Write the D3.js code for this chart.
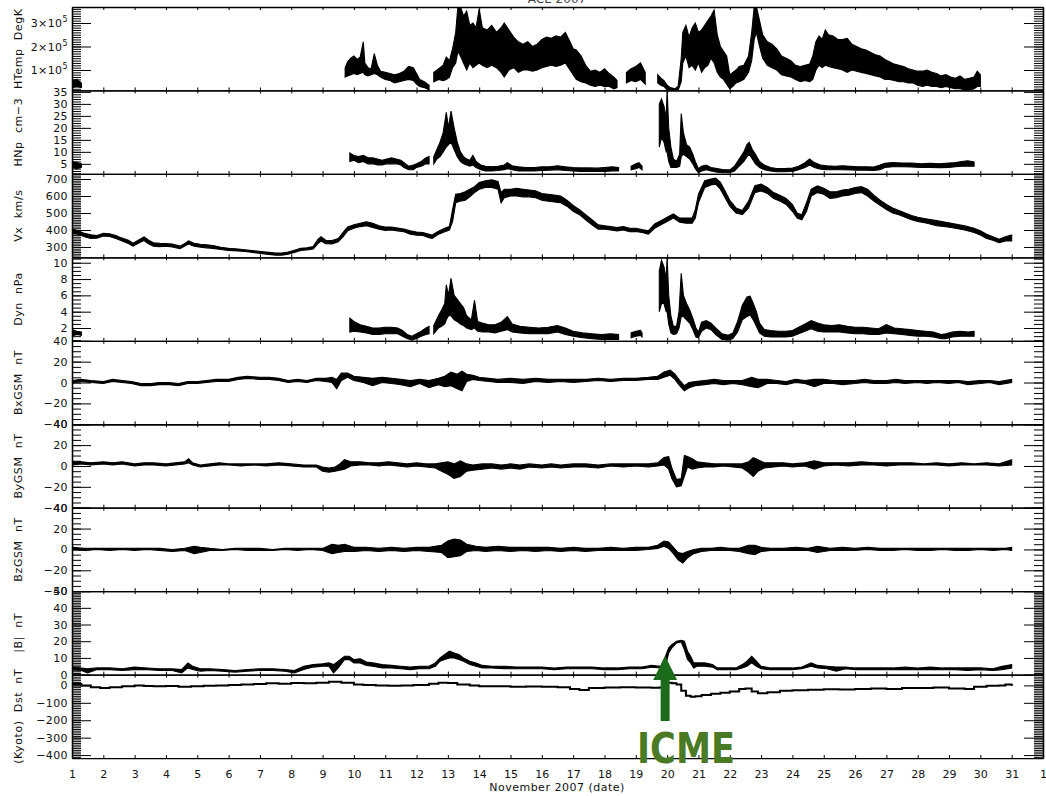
<!DOCTYPE html>
<html><head><meta charset="utf-8">
<script src="https://cdn.jsdelivr.net/npm/d3@7"></script>
<style>
body{margin:0;background:#fff}
svg{display:block}
text{font-family:"DejaVu Sans",sans-serif}
</style>
</head><body>
<svg id="c" width="1046" height="796"></svg>
<script>
// ---------------- DATA ----------------
// each entry: [day of Nov 2007, low envelope, high envelope]; null = data gap
const dayTicks = d3.range(1, 33);
const dayLabels = ["1","2","3","4","5","6","7","8","9","10","11","12","13","14","15","16","17","18","19","20","21","22","23","24","25","26","27","28","29","30","31","1"];

// proton temperature, units of 1e5 K
const tempE5 = [
[1.0,0.25,0.55],[1.15,0.3,0.6],[1.3,0.25,0.45],null,
[9.72,0.7,1.1],[9.8,0.75,1.35],[9.9,0.8,1.5],[10.0,0.85,1.6],[10.1,0.8,1.45],[10.2,0.85,1.55],[10.3,0.9,2.2],[10.35,0.8,1.3],[10.45,0.75,1.1],[10.55,0.8,1.05],[10.65,0.85,1.7],[10.75,0.8,1.2],[10.85,0.7,0.95],[11.0,0.6,0.9],[11.15,0.55,0.85],[11.3,0.45,0.8],[11.45,0.5,0.85],[11.6,0.55,0.95],[11.75,0.6,1.15],[11.9,0.55,1.1],[12.0,0.4,0.85],[12.1,0.3,0.6],[12.25,0.25,0.5],[12.4,0.15,0.35],null,
[12.55,0.5,0.9],[12.7,0.6,1.05],[12.85,0.55,1.2],[12.95,0.6,1.55],[13.05,0.7,1.4],[13.15,1.1,1.9],[13.25,1.3,2.6],[13.32,1.8,3.7],[13.4,1.6,3.7],[13.5,1.3,3.3],[13.6,1.0,3.5],[13.7,1.3,2.9],[13.8,1.1,3.0],[13.9,1.2,2.8],[14.0,1.3,3.6],[14.1,1.2,2.8],[14.25,1.1,2.7],[14.4,1.2,2.9],[14.55,1.1,2.6],[14.7,0.9,2.8],[14.8,0.7,3.0],[14.95,1.0,2.7],[15.1,1.1,2.4],[15.25,0.9,2.2],[15.4,1.0,2.1],[15.55,1.0,2.2],[15.7,0.95,2.0],[15.85,1.0,2.1],[16.0,1.1,2.3],[16.15,1.15,2.4],[16.3,1.2,2.35],[16.45,1.15,2.45],[16.6,1.2,2.4],[16.75,1.3,2.6],[16.9,1.0,2.2],[17.0,0.8,1.9],[17.1,0.6,1.85],[17.25,0.5,1.6],[17.4,0.45,1.2],[17.55,0.35,0.95],[17.7,0.3,1.0],[17.85,0.35,0.9],[18.0,0.3,1.05],[18.15,0.3,0.85],[18.3,0.2,0.7],[18.4,0.25,0.55],null,
[18.7,0.45,0.9],[18.85,0.55,1.05],[19.0,0.5,1.15],[19.15,0.6,1.3],[19.3,0.4,0.9],null,
[19.7,0.45,0.8],[19.8,0.35,0.65],[19.9,0.3,0.55],[20.0,0.15,0.35],[20.1,0.13,0.25],[20.25,0.13,0.2],[20.35,0.13,0.3],[20.45,0.5,1.5],[20.5,1.3,2.6],[20.6,1.6,2.9],[20.7,1.1,2.4],[20.8,1.2,2.8],[20.9,1.0,3.0],[21.0,1.3,2.6],[21.1,0.9,2.7],[21.2,1.1,2.9],[21.3,1.2,3.1],[21.4,1.5,3.3],[21.5,1.3,3.55],[21.6,0.9,2.5],[21.7,0.7,2.0],[21.8,0.6,1.8],[21.9,0.4,1.6],[22.0,0.2,0.8],[22.1,0.3,0.9],[22.2,0.45,1.0],[22.3,0.5,1.15],[22.45,0.6,1.2],[22.6,0.9,1.6],[22.7,1.4,2.6],[22.78,2.3,3.7],[22.85,2.6,3.7],[22.95,2.0,3.1],[23.05,1.5,2.5],[23.2,1.2,2.2],[23.35,1.1,2.1],[23.5,1.0,1.9],[23.65,0.8,1.6],[23.8,0.75,1.5],[23.95,0.7,1.4],[24.1,0.6,1.2],[24.25,0.5,1.15],[24.4,0.55,1.2],[24.55,0.5,1.25],[24.65,0.6,1.6],[24.75,1.0,2.2],[24.85,1.2,2.45],[24.95,1.1,2.3],[25.05,1.2,2.7],[25.15,1.15,2.5],[25.3,1.1,2.45],[25.45,1.05,2.3],[25.6,1.0,2.3],[25.75,0.9,2.35],[25.9,1.0,2.1],[26.05,0.95,2.0],[26.2,0.9,1.9],[26.35,0.85,1.85],[26.5,0.8,1.75],[26.65,0.75,1.65],[26.8,0.7,1.6],[26.95,0.6,1.45],[27.1,0.6,1.35],[27.25,0.55,1.25],[27.4,0.5,1.2],[27.55,0.5,1.15],[27.7,0.45,1.05],[27.85,0.45,1.0],[28.0,0.35,0.95],[28.15,0.3,0.95],[28.3,0.35,1.0],[28.45,0.3,0.9],[28.6,0.3,0.85],[28.75,0.25,0.75],[28.9,0.3,0.8],[29.05,0.25,0.7],[29.2,0.2,0.65],[29.35,0.2,0.75],[29.5,0.15,0.6],[29.65,0.15,0.65],[29.8,0.2,0.7],[29.9,0.3,0.95],[30.0,0.3,0.8]
];

// proton density, cm^-3
const densityNp = [
[1.0,3.5,6],[1.15,3,5.5],[1.3,3.5,5],null,
[9.87,6,9.5],[10.0,6.5,8.5],[10.15,5.5,8],[10.3,6,8.5],[10.45,5,7.5],[10.6,5,7.5],[10.75,4.5,7],[10.9,4.5,6.5],[11.05,5,7],[11.2,5,7.5],[11.35,5,7],[11.5,4.5,6.5],[11.6,3.5,5.5],[11.75,2.5,4],[11.9,2.5,4.5],[12.0,3.5,5],[12.15,4,6],[12.3,5,7.5],[12.4,5,8],null,
[12.55,5,8],[12.65,7,11],[12.75,8,14],[12.85,10,18],[12.95,12,26.5],[13.02,13,20],[13.1,14,27],[13.2,11,20],[13.3,8,14],[13.4,6,10],[13.5,5,8],[13.6,4.5,7],[13.7,4,6.5],[13.8,4.5,8.5],[13.9,3.5,6],[14.05,2.5,4.5],[14.2,2,4],[14.4,2,3.8],[14.6,2.2,4],[14.8,2.5,4.5],[14.9,3,5.5],[15.05,2.5,4.2],[15.25,2,3.8],[15.5,2,3.5],[15.75,2,3.5],[16.0,2.2,3.8],[16.25,2.3,3.8],[16.5,2.5,4.2],[16.75,2.2,3.8],[17.0,2,3.5],[17.25,1.8,3.3],[17.5,1.8,3.3],[17.75,1.8,3.2],[18.0,1.8,3.5],[18.25,2,3.8],[18.45,2,3.5],null,
[18.85,2.5,4],[19.0,3,5],[19.1,3.5,5.5],[19.2,2.5,4],null,
[19.75,12,30],[19.82,16,32],[19.9,14,29],[19.97,10,24],[20.0,10,36],[20.05,6,20],[20.12,3.5,12],[20.2,3.5,7],[20.3,3.5,6],[20.4,4,9],[20.45,8,26],[20.52,9,18],[20.62,8,13],[20.72,7,12],[20.82,5,9],[20.9,3,6],[21.0,1.3,3],[21.1,2,4],[21.25,2.5,4.5],[21.4,2,3.5],[21.6,1.5,3],[21.8,1.3,2.5],[22.0,1.3,2.5],[22.15,2,4],[22.3,4,7],[22.45,6,10],[22.55,8,13],[22.62,9,14],[22.72,7,11],[22.82,5,9],[22.95,3.5,6],[23.1,2.5,4.5],[23.3,2,3.5],[23.5,1.7,3],[23.75,1.7,3],[24.0,1.8,3.2],[24.2,2.5,4],[24.4,3.5,5.5],[24.55,4.5,7],[24.7,3.5,5.5],[24.9,2.8,4.5],[25.1,2.5,4.2],[25.35,2.5,4],[25.6,2.5,4.2],[25.85,2.4,4],[26.1,2.3,3.8],[26.35,2.3,3.8],[26.6,2.2,3.7],[26.8,2.5,4.5],[26.95,3.5,5.2],[27.2,3.8,5.5],[27.5,3.8,5.3],[27.8,3.7,5.3],[28.1,3.5,5],[28.4,3.5,5.2],[28.7,3.4,5],[29.0,3.5,5.3],[29.2,3.8,5.5],[29.4,4,6],[29.6,4,6.3],[29.8,4,5.8]
];

// solar wind speed Vx, km/s
const speedVx = [
[1.0,380,405],[1.2,375,395],[1.4,360,380],[1.6,350,372],[1.8,352,368],[2.0,365,380],[2.2,362,378],[2.4,350,368],[2.6,335,352],[2.8,320,340],[2.95,305,322],[3.1,320,338],[3.3,338,360],[3.45,318,340],[3.6,305,325],[3.8,302,322],[4.0,305,320],[4.2,300,318],[4.45,290,305],[4.6,305,320],[4.72,318,336],[4.9,305,322],[5.1,298,316],[5.3,295,313],[5.5,292,308],[5.75,285,298],[6.0,280,292],[6.3,276,288],[6.6,272,282],[6.9,265,276],[7.2,258,270],[7.5,252,264],[7.7,252,264],[7.9,258,270],[8.1,268,280],[8.3,280,292],[8.5,283,295],[8.7,288,302],[8.85,320,345],[8.95,335,360],[9.1,320,340],[9.3,318,338],[9.5,330,350],[9.65,360,385],[9.8,395,418],[10.0,410,430],[10.2,420,440],[10.4,425,448],[10.6,415,440],[10.8,405,425],[11.0,398,418],[11.2,400,418],[11.4,395,412],[11.6,390,405],[11.8,375,395],[12.0,370,388],[12.2,368,385],[12.4,355,375],[12.5,350,370],[12.7,375,392],[12.9,390,410],[13.05,400,420],[13.15,450,520],[13.25,560,610],[13.4,570,615],[13.55,575,625],[13.7,595,640],[13.85,620,655],[14.0,640,680],[14.2,650,690],[14.4,650,695],[14.6,640,685],[14.7,560,620],[14.8,590,640],[15.0,600,640],[15.2,600,645],[15.4,595,640],[15.6,595,635],[15.8,590,630],[16.0,575,615],[16.2,570,610],[16.4,565,605],[16.6,560,600],[16.8,540,575],[17.0,510,545],[17.2,490,520],[17.4,460,490],[17.6,430,460],[17.8,405,430],[18.0,405,425],[18.2,400,420],[18.4,395,415],[18.6,400,420],[18.8,390,410],[19.0,392,410],[19.2,385,402],[19.4,375,395],[19.6,410,435],[19.8,430,455],[20.0,450,475],[20.2,470,495],[20.4,445,470],[20.6,440,470],[20.8,440,470],[20.9,470,520],[21.0,560,610],[21.2,650,690],[21.4,665,700],[21.55,670,705],[21.7,640,680],[21.85,590,630],[22.0,540,575],[22.2,500,530],[22.4,490,515],[22.6,530,570],[22.8,620,660],[23.0,630,670],[23.2,615,650],[23.4,585,620],[23.6,570,605],[23.8,550,585],[24.0,510,550],[24.15,470,500],[24.3,460,490],[24.45,510,560],[24.6,600,640],[24.8,620,660],[25.0,610,645],[25.2,585,625],[25.4,590,625],[25.6,600,635],[25.8,605,640],[26.0,615,650],[26.2,620,655],[26.4,600,640],[26.6,570,605],[26.8,545,575],[27.0,520,550],[27.2,500,530],[27.4,490,515],[27.6,475,500],[27.8,460,485],[28.0,450,475],[28.3,440,465],[28.6,425,455],[28.9,420,445],[29.2,410,435],[29.5,400,425],[29.8,385,410],[30.0,370,395],[30.2,350,375],[30.4,340,360],[30.6,325,345],[30.8,335,360],[31.0,335,370]
];

// dynamic pressure, nPa
const pressureDyn = [
[1.0,1.0,1.8],[1.15,1.2,1.6],[1.3,1.1,1.5],null,
[9.87,1.5,3.2],[10.0,1.6,2.8],[10.2,1.5,2.4],[10.4,1.4,2.2],[10.6,1.2,2.0],[10.8,1.2,2.0],[11.0,1.3,2.1],[11.2,1.3,2.1],[11.4,1.3,2.0],[11.55,1.0,1.7],[11.7,0.7,1.2],[11.85,0.5,1.0],[12.0,0.7,1.3],[12.15,1.0,1.6],[12.3,1.2,2.0],[12.4,1.3,2.2],null,
[12.55,1.3,2.3],[12.7,2.0,3.5],[12.8,2.2,4.2],[12.9,2.5,5.0],[12.95,3.0,7.3],[13.02,3.5,6.0],[13.1,3.5,8.1],[13.2,3.0,6.0],[13.3,2.8,5.5],[13.4,2.5,5.0],[13.5,2.3,4.5],[13.6,2.0,3.5],[13.75,1.8,3.0],[13.85,2.0,5.4],[13.95,1.6,2.8],[14.1,1.5,2.6],[14.3,1.5,2.4],[14.5,1.4,2.4],[14.7,1.6,2.7],[14.9,1.8,3.4],[15.05,1.5,2.5],[15.3,1.4,2.2],[15.6,1.3,2.1],[15.9,1.3,2.0],[16.2,1.3,2.1],[16.5,1.5,2.3],[16.75,1.2,2.0],[17.0,1.0,1.6],[17.3,0.8,1.4],[17.6,0.7,1.3],[17.9,0.6,1.2],[18.2,0.6,1.3],[18.45,0.6,1.2],null,
[18.85,0.8,1.4],[19.0,1.0,1.6],[19.15,1.1,1.7],[19.2,0.9,1.4],null,
[19.75,4,9],[19.82,5,10.3],[19.9,5,9.5],[19.97,4,8],[20.0,4,10.7],[20.05,2.5,6],[20.12,1.4,3.5],[20.2,1.2,2.2],[20.3,1.3,2.2],[20.38,2,4],[20.45,3.4,8.7],[20.52,3.4,6],[20.62,3,5],[20.72,2.6,4.2],[20.82,1.8,3.2],[20.92,0.9,2],[21.0,0.8,1.5],[21.1,1.6,2.7],[21.25,2.0,2.9],[21.4,1.8,2.6],[21.55,1.2,2.0],[21.75,0.6,1.3],[21.95,0.5,1.1],[22.1,0.7,1.4],[22.25,1.5,2.8],[22.4,3.0,4.8],[22.55,3.4,5.8],[22.65,3.6,5.9],[22.75,3.0,5.0],[22.85,2.2,4.0],[22.95,1.4,2.6],[23.1,1.0,1.8],[23.3,0.9,1.7],[23.55,0.9,1.6],[23.8,0.9,1.6],[24.0,1.0,1.7],[24.2,1.3,2.1],[24.4,1.6,2.5],[24.6,1.9,2.9],[24.8,1.6,2.6],[25.0,1.5,2.4],[25.25,1.5,2.3],[25.5,1.5,2.4],[25.75,1.4,2.2],[26.0,1.3,2.1],[26.25,1.3,2.1],[26.5,1.2,2.0],[26.75,1.2,1.9],[27.0,1.4,2.4],[27.25,1.3,2.0],[27.5,1.2,1.9],[27.75,1.1,1.8],[28.0,1.0,1.7],[28.25,1.0,1.6],[28.5,0.9,1.5],[28.75,0.7,1.2],[28.9,0.7,1.3],[29.1,0.9,1.5],[29.35,1.0,1.6],[29.6,1.0,1.5],[29.8,1.0,1.6]
];

// magnetic field GSM components, nT
const fieldBx = [
[1.0,0,2],[1.3,1,3],[1.6,0,2],[2.0,-1,1],[2.3,1,3],[2.6,0,2],[2.9,-1,1],[3.2,-3,-1],[3.5,-3,-1],[3.8,-2,0],[4.1,-2,0],[4.4,-3,-1],[4.7,-1,1],[5.0,-1,1],[5.3,0,2],[5.6,1,3],[6.0,1,3],[6.3,3,5],[6.6,4,6],[7.0,3,5],[7.3,3,5],[7.6,2,4],[7.9,0,2],[8.2,1,3],[8.5,0,2],[8.8,2,4],[9.1,1,4],[9.3,0,5],[9.45,-6,3],[9.6,2,9],[9.8,5,9],[10.0,2,6],[10.3,0,5],[10.6,-3,4],[10.9,0,5],[11.2,-1,4],[11.5,-2,3],[11.8,-4,2],[12.1,-1,3],[12.4,-5,2],[12.7,-2,4],[12.9,-4,6],[13.1,-3,10],[13.3,-6,8],[13.45,-8,11],[13.6,1,8],[13.8,3,7],[14.0,2,5],[14.3,1,4],[14.6,0,3],[15.0,0,4],[15.4,-1,3],[15.8,1,4],[16.2,0,3],[16.6,1,3],[17.0,0,3],[17.4,1,3],[17.8,2,4],[18.2,1,3],[18.6,2,4],[19.0,2,4],[19.4,3,5],[19.7,3,6],[19.9,5,10],[20.1,7,12],[20.25,3,8],[20.4,-3,2],[20.55,-8,-3],[20.7,-5,0],[20.9,-3,1],[21.2,-2,2],[21.5,-1,3],[21.8,-2,2],[22.1,-1,2],[22.4,-2,2],[22.7,-4,5],[22.9,-5,3],[23.2,-1,3],[23.5,-1,2],[23.8,-2,1],[24.1,0,3],[24.4,-1,2],[24.7,-4,3],[25.0,-1,3],[25.3,-1,2],[25.6,-2,2],[26.0,-1,2],[26.3,0,3],[26.6,-1,2],[27.0,-1,2],[27.3,0,3],[27.6,-1,2],[28.0,0,2],[28.3,-1,2],[28.6,0,2],[29.0,-1,2],[29.3,0,2],[29.6,-2,1],[30.0,-1,2],[30.3,0,2],[30.6,-2,1],[31.0,0,3]
];
const fieldBy = [
[1.0,1,4],[1.3,2,4],[1.6,1,3],[2.0,2,4],[2.3,1,3],[2.6,2,4],[3.0,0,2],[3.3,1,3],[3.6,1,3],[4.0,0,2],[4.3,1,3],[4.6,2,4],[4.72,3,7],[4.85,1,3],[5.1,-1,1],[5.4,0,2],[5.7,1,3],[6.0,1,2],[6.4,0,2],[6.8,1,2],[7.2,0,2],[7.6,1,3],[8.0,0,2],[8.4,-1,1],[8.8,-1,1],[9.0,-5,-1],[9.2,-6,-2],[9.4,-5,-1],[9.55,-4,2],[9.7,-3,6],[9.9,0,4],[10.2,1,4],[10.5,1,3],[10.8,0,3],[11.1,1,4],[11.4,0,3],[11.7,-1,2],[12.0,0,3],[12.3,-1,2],[12.6,-2,2],[12.8,-5,3],[13.0,-8,4],[13.2,-12,2],[13.4,-10,5],[13.6,-5,2],[13.8,-4,1],[14.1,-3,2],[14.4,-2,2],[14.7,-3,1],[15.0,-2,2],[15.3,-3,1],[15.6,-1,2],[16.0,-2,1],[16.3,-1,2],[16.6,-2,1],[17.0,-1,2],[17.4,-1,2],[17.8,-2,1],[18.2,0,2],[18.6,-1,2],[19.0,0,2],[19.4,-1,2],[19.7,0,3],[19.9,1,8],[20.05,-3,9],[20.15,-12,-2],[20.3,-20,-13],[20.45,-19,-12],[20.55,-10,10],[20.65,-1,9],[20.8,-3,7],[20.95,-2,4],[21.2,-1,3],[21.5,-1,2],[21.8,0,2],[22.1,-1,2],[22.4,-2,2],[22.6,-6,4],[22.75,-10,8],[22.9,-5,6],[23.1,-2,3],[23.4,-1,3],[23.7,0,3],[24.0,-1,2],[24.4,0,3],[24.7,-3,5],[25.0,0,3],[25.4,1,3],[25.8,0,3],[26.2,1,4],[26.6,1,3],[27.0,0,3],[27.4,1,3],[27.8,1,3],[28.2,1,2],[28.6,1,3],[29.0,0,2],[29.4,1,3],[29.8,1,2],[30.2,1,3],[30.6,0,2],[31.0,1,6]
];
const fieldBz = [
[1.0,0,2],[1.4,-1,1],[1.8,0,1],[2.2,-1,1],[2.6,0,1],[3.0,-1,1],[3.4,0,1],[3.8,-1,1],[4.2,-2,0],[4.6,-1,1],[4.9,-4,3],[5.1,-3,2],[5.4,-1,1],[5.8,-1,0],[6.2,0,1],[6.6,-1,1],[7.0,-1,1],[7.4,-1,0],[7.8,0,1],[8.2,-1,1],[8.6,0,1],[9.0,-1,1],[9.3,-4,5],[9.5,-3,4],[9.7,-2,5],[10.0,-2,2],[10.4,-1,2],[10.8,-2,1],[11.2,-1,2],[11.6,-2,1],[12.0,-1,2],[12.4,-2,2],[12.8,-3,4],[13.0,-8,8],[13.2,-7,10],[13.4,-6,9],[13.6,-2,5],[13.9,-1,3],[14.2,-2,2],[14.6,-1,3],[15.0,-2,2],[15.4,-1,2],[15.8,-2,2],[16.2,-1,2],[16.6,-2,1],[17.0,-1,2],[17.4,-2,1],[17.8,-1,1],[18.2,-1,2],[18.6,-1,1],[19.0,-1,2],[19.4,0,2],[19.7,1,4],[19.9,3,8],[20.05,1,7],[20.2,-4,2],[20.35,-10,-3],[20.5,-13,-4],[20.65,-8,-2],[20.85,-4,0],[21.1,-2,1],[21.4,-1,1],[21.7,-1,2],[22.0,-1,1],[22.3,-2,1],[22.6,-4,4],[22.8,-5,4],[23.0,-2,2],[23.3,-1,1],[23.7,-1,1],[24.1,-1,2],[24.5,-1,1],[24.8,-3,3],[25.2,-1,1],[25.6,-1,2],[26.0,-1,1],[26.4,0,2],[26.8,-1,1],[27.2,-1,1],[27.6,0,1],[28.0,-1,1],[28.4,-1,1],[28.8,0,1],[29.2,-1,1],[29.6,-1,1],[30.0,0,1],[30.4,-1,1],[30.8,0,1],[31.0,-1,2]
];
// total field |B|, nT
const fieldBt = [
[1.0,3,4.5],[1.3,2.5,4],[1.5,1,3.5],[1.8,3,4],[2.2,3,4],[2.6,2.5,3.5],[3.0,3,4.5],[3.4,3,4],[3.8,2.5,3.5],[4.2,2.5,3.5],[4.5,1,3],[4.7,4,7],[4.85,3,5],[5.1,2,3.5],[5.4,2.5,3.5],[5.8,2,3],[6.2,1.5,2.5],[6.6,2,3],[7.0,2.5,3.5],[7.4,2.5,3.5],[7.8,2,3],[8.1,1,2.5],[8.4,3,5],[8.7,4.5,6],[9.0,5,6.5],[9.2,5,7],[9.35,1,6],[9.5,4,8],[9.7,9,11],[9.85,9,11],[10.0,7,9],[10.2,7,9.5],[10.4,5.5,7.5],[10.6,5,7],[10.9,4,6],[11.2,4,5.5],[11.5,3.5,5],[11.8,3,4.5],[12.1,3.5,5],[12.4,3.5,5],[12.6,5,7],[12.75,8,10],[12.9,9,12],[13.05,10,14],[13.2,10,13],[13.35,9,12],[13.5,8,10],[13.7,6,8],[13.9,5,7],[14.1,4,5.5],[14.4,4,5],[14.8,3.5,5],[15.2,3.5,4.5],[15.6,3.5,4.5],[16.0,3.5,4.5],[16.4,3,4],[16.8,3.5,4.5],[17.2,3.5,4.5],[17.6,3.5,4.5],[18.0,3,4],[18.4,3,4],[18.8,3.5,4.5],[19.2,3.5,4.5],[19.5,4.5,5.5],[19.8,4,5],[19.95,5,11],[20.05,13,16],[20.15,16,18],[20.3,19,20],[20.45,19.5,20.5],[20.55,15,20],[20.65,9,14],[20.75,7,11],[20.85,4,7],[20.95,5,7],[21.2,5,7],[21.45,4.5,6],[21.6,3,4],[21.9,3,4],[22.2,3,4],[22.4,4,6],[22.55,5,8],[22.7,7,11],[22.85,5,8],[23.0,3.5,5],[23.3,3,4],[23.6,3,4],[24.0,3,4],[24.3,3.5,4.5],[24.6,5,7],[24.8,4,5.5],[25.1,3.5,5],[25.4,2,4.5],[25.7,3.5,4.5],[26.0,3,4],[26.4,3,4],[26.8,3,4],[27.2,3,4],[27.6,3,4.5],[28.0,3,4],[28.4,3,4.5],[28.8,3,4],[29.2,3,4],[29.6,2.5,4],[30.0,3,4],[30.4,2.5,3.5],[30.7,3,5],[31.0,4,6]
];
// Kyoto Dst index, nT  [day, value]
const dstKyoto = [
[1.0,8],[1.3,0],[1.6,-10],[1.9,-15],[2.2,-10],[2.6,-5],[3.0,0],[3.3,-3],[3.6,-5],[4.0,-3],[4.4,-8],[4.8,-5],[5.2,-2],[5.6,0],[6.0,3],[6.4,5],[6.8,8],[7.2,12],[7.6,10],[8.0,14],[8.4,12],[8.8,15],[9.2,21],[9.6,15],[10.0,5],[10.3,2],[10.7,0],[11.1,-2],[11.5,0],[11.9,2],[12.4,10],[12.7,15],[13.0,14],[13.3,5],[13.7,0],[14.0,-5],[14.5,-5],[15.0,-8],[15.5,-6],[16.0,-8],[16.5,-10],[16.9,-20],[17.2,-27],[17.5,-15],[18.0,-12],[18.5,-10],[19.0,-12],[19.5,-14],[19.75,-12],[19.85,12],[20.0,15],[20.15,12],[20.3,5],[20.45,-30],[20.6,-60],[20.75,-65],[20.9,-62],[21.1,-55],[21.4,-48],[21.7,-42],[22.0,-35],[22.3,-20],[22.5,-18],[22.7,-35],[22.9,-45],[23.2,-40],[23.6,-30],[24.0,-28],[24.5,-25],[25.0,-22],[25.5,-24],[26.0,-20],[26.5,-18],[27.0,-20],[27.5,-15],[28.0,-15],[28.5,-12],[29.0,-18],[29.5,-20],[29.8,-8],[30.2,-2],[30.6,0],[30.8,5],[31.0,-3]
];

// y-axis labelled tick values
const tempTicks = [1, 2, 3];
const npTicks = [5, 10, 15, 20, 25, 30, 35];
const vxTicks = [300, 400, 500, 600, 700];
const dynTicks = [2, 4, 6, 8, 10];
const bTicks = [-40, -20, 0, 20, 40];
const btTicks = [0, 10, 20, 30, 40, 50];
const dstTicks = [-400, -300, -200, -100, 0];

// ---------------- LAYOUT ----------------
const X0 = 72, X1 = 1043, TOP = 7, PH = 83.45;
const svg = d3.select("#c");
const x = d3.scaleLinear().domain([1, 32]).range([X0, X1]);

const panels = [
  {title: "HTemp  DegK", domain: [0.13, 3.68], major: tempTicks, minor: 0.1, data: tempE5, kind: "band", sci: true},
  {title: "HNp  cm\u22123", domain: [0.8, 35.6], major: npTicks, minor: 1, data: densityNp, kind: "band"},
  {title: "Vx  km/s", domain: [239, 730], major: vxTicks, minor: 10, data: speedVx, kind: "band"},
  {title: "Dyn  nPa", domain: [0.43, 10.66], major: dynTicks, minor: 0.5, data: pressureDyn, kind: "band"},
  {title: "BxGSM  nT", domain: [-40, 40], major: bTicks, minor: 5, data: fieldBx, kind: "band"},
  {title: "ByGSM  nT", domain: [-40, 40], major: bTicks, minor: 5, data: fieldBy, kind: "band"},
  {title: "BzGSM  nT", domain: [-40, 40], major: bTicks, minor: 5, data: fieldBz, kind: "band"},
  {title: "|B|  nT", domain: [0, 50], major: btTicks, minor: 1, data: fieldBt, kind: "band"},
  {title: "(Kyoto)  Dst  nT", domain: [-417, 62], major: dstTicks, minor: 10, data: dstKyoto, kind: "line"}
];

const fmtNum = d => (d < 0 ? "\u2212" + Math.abs(d) : "" + d);

panels.forEach((p, i) => {
  const y0 = TOP + i * PH, y1 = y0 + PH;
  const y = d3.scaleLinear().domain(p.domain).range([y1, y0]);
  const g = svg.append("g");
  const cid = "clip" + i;
  svg.append("clipPath").attr("id", cid).append("rect")
    .attr("x", X0).attr("y", y0).attr("width", X1 - X0).attr("height", PH);
  const dg = g.append("g").attr("clip-path", `url(#${cid})`);
  if (p.kind === "band") {
    const area = d3.area().defined(d => d !== null)
      .x(d => x(d[0])).y0(d => y(d[1])).y1(d => y(d[2]));
    dg.append("path").datum(p.data).attr("d", area)
      .attr("fill", "#000").attr("stroke", "#000").attr("stroke-width", 1.1)
      .attr("stroke-linejoin", "miter");
  } else {
    const line = d3.line().x(d => x(d[0])).y(d => y(d[1])).curve(d3.curveStepAfter);
    dg.append("path").datum(p.data).attr("d", line)
      .attr("fill", "none").attr("stroke", "#000").attr("stroke-width", 2);
  }

  const lo = Math.ceil(Math.min(...p.domain) / p.minor - 1e-9);
  const hi = Math.floor(Math.max(...p.domain) / p.minor + 1e-9);
  const minorVals = d3.range(lo, hi + 1).map(k => +(k * p.minor).toFixed(4));

  // left axis minor + major
  g.append("g").attr("transform", `translate(${X0},0)`)
    .call(d3.axisLeft(y).tickValues(minorVals).tickSizeInner(-9).tickSizeOuter(0).tickFormat(""));
  const la = g.append("g").attr("transform", `translate(${X0},0)`)
    .call(d3.axisLeft(y).tickValues(p.major).tickSizeInner(-19).tickSizeOuter(0).tickPadding(4).tickFormat(fmtNum));
  la.selectAll(".tick text").attr("font-size", 11).attr("font-family", "DejaVu Sans")
    .attr("letter-spacing", 0.4).attr("fill", "#111");
  if (p.sci) {
    la.selectAll(".tick text").each(function (d) {
      const t = d3.select(this);
      t.text("");
      t.append("tspan").text(d + "\u00d710");
      t.append("tspan").attr("dy", -5).attr("font-size", 8).text("5");
    });
  }
  // right axis minor + major
  g.append("g").attr("transform", `translate(${X1},0)`)
    .call(d3.axisRight(y).tickValues(minorVals).tickSizeInner(-9).tickSizeOuter(0).tickFormat(""));
  g.append("g").attr("transform", `translate(${X1},0)`)
    .call(d3.axisRight(y).tickValues(p.major).tickSizeInner(-19).tickSizeOuter(0).tickFormat(""));
  // top & bottom day ticks (inward)
  g.append("g").attr("transform", `translate(0,${y0})`)
    .call(d3.axisTop(x).tickValues(dayTicks).tickSizeInner(-3).tickSizeOuter(0).tickFormat(""));
  const ba = g.append("g").attr("transform", `translate(0,${y1})`)
    .call(d3.axisBottom(x).tickValues(dayTicks).tickSizeInner(-3).tickSizeOuter(0).tickPadding(12)
      .tickFormat(i === panels.length - 1 ? (d => dayLabels[d - 1]) : ""));
  ba.selectAll(".tick text").attr("font-size", 11).attr("font-family", "DejaVu Sans").attr("fill", "#111");

  g.selectAll(".domain").attr("stroke-width", 1.3);

  // rotated panel title
  svg.append("text")
    .attr("transform", `translate(22,${(y0 + y1) / 2}) rotate(-90)`)
    .attr("text-anchor", "middle")
    .attr("font-size", 11).attr("letter-spacing", 0.6).attr("fill", "#111")
    .style("white-space", "pre")
    .text(p.title);
});

// top title (mostly cut off by the page edge, as in the original)
svg.append("text").attr("x", 557).attr("y", 3).attr("text-anchor", "middle")
  .attr("font-size", 12).attr("fill", "#444").text("ACE  2007");

// x-axis title
svg.append("text").attr("x", 557).attr("y", 791).attr("text-anchor", "middle")
  .attr("font-size", 11).attr("letter-spacing", 0.5).attr("fill", "#111")
  .text("November 2007 (date)");

// ICME annotation arrow + label
const ax = x(20.0) - 2;
svg.append("rect").attr("x", ax - 4.5).attr("y", 679).attr("width", 9).attr("height", 42).attr("fill", "#1b6b1b");
svg.append("path").attr("d", `M${ax},656 L${ax - 12},680 L${ax + 12},680 Z`).attr("fill", "#1b6b1b");
svg.append("text").attr("x", 686).attr("y", 763).attr("text-anchor", "middle")
  .attr("font-family", "Liberation Sans, Arial, sans-serif").attr("font-weight", "bold")
  .attr("font-size", 43).attr("textLength", 98).attr("lengthAdjust", "spacingAndGlyphs")
  .attr("fill", "#4b7a25").text("ICME");
</script>
</body></html>
